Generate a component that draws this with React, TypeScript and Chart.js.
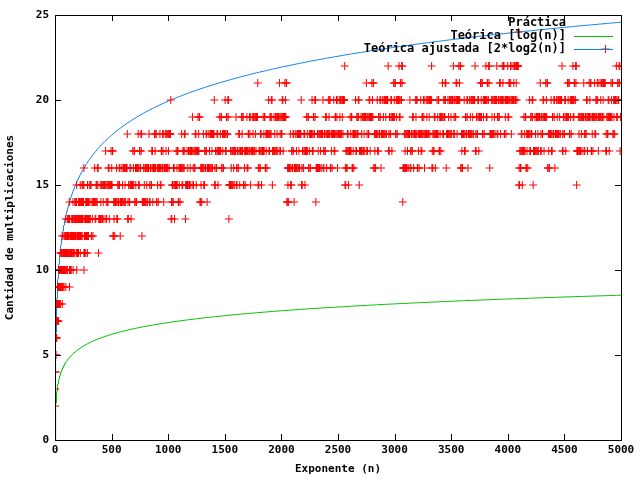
import React, { useEffect, useRef } from "react";
import { Chart, registerables } from "chart.js";
Chart.register(...registerables);

const xTicks = [0, 500, 1000, 1500, 2000, 2500, 3000, 3500, 4000, 4500, 5000];
const yTicks = [0, 5, 10, 15, 20, 25];
const seriesNames = ["Práctica", "Teórica [log(n)]", "Teórica ajustada [2*log2(n)]"];

// measured multiplications of square-and-multiply exponentiation for sampled exponents
function mults(n: number): number {
  let c = 1, e = n;
  while (e > 0) { if (e & 1) c++; e >>= 1; if (e > 0) c++; }
  return c;
}
const practicaN: number[] = [];
for (let n = 1; n <= 5000; n += n < 300 ? 1 : 3) practicaN.push(n);
const practica = practicaN.map((n) => ({ x: n, y: mults(n) }));

const curveN: number[] = [];
for (let n = 1; n <= 5000; n += n < 100 ? 1 : 20) curveN.push(n);
const teorica = curveN.map((n) => ({ x: n, y: Math.log(n) }));
const ajustada = curveN.map((n) => ({ x: n, y: 2 * Math.log2(n) }));

const FONT = "bold 12px 'DejaVu Sans Mono'";
const tf = { family: "DejaVu Sans Mono", size: 11, weight: "bold" as const };

export default function App() {
  const ref = useRef<HTMLCanvasElement>(null);
  useEffect(() => {
    document.body.style.margin = "0";
    const frame = {
      id: "frame",
      afterDraw(c: any) {
        const { ctx, chartArea: a, scales } = c;
        ctx.save();
        ctx.strokeStyle = "#000";
        ctx.lineWidth = 1;
        ctx.strokeRect(a.left + 0.5, a.top + 0.5, a.right - a.left, a.bottom - a.top);
        ctx.beginPath();
        xTicks.forEach((t) => {
          const x = Math.round(scales.x.getPixelForValue(t)) + 0.5;
          ctx.moveTo(x, a.bottom); ctx.lineTo(x, a.bottom - 6);
          ctx.moveTo(x, a.top); ctx.lineTo(x, a.top + 6);
        });
        yTicks.forEach((t) => {
          const y = Math.round(scales.y.getPixelForValue(t)) + 0.5;
          ctx.moveTo(a.left, y); ctx.lineTo(a.left + 6, y);
          ctx.moveTo(a.right, y); ctx.lineTo(a.right - 6, y);
        });
        ctx.stroke();
        ctx.font = FONT;
        ctx.fillStyle = "#000";
        ctx.textAlign = "right";
        ctx.textBaseline = "middle";
        const cols = [null, "#00c000", "#0a80f0"];
        seriesNames.forEach((s, i) => {
          const y = 23 + i * 13;
          ctx.fillText(s, 566, y);
          if (cols[i]) {
            ctx.strokeStyle = cols[i];
            ctx.beginPath(); ctx.moveTo(574, y + 0.5); ctx.lineTo(613, y + 0.5); ctx.stroke();
          }
        });
        ctx.restore();
      },
    };
    const chart = new Chart(ref.current!, {
      type: "scatter",
      data: {
        datasets: [
          { label: seriesNames[0], data: practica, pointStyle: "cross", pointRadius: 4, borderColor: "#ff0000", borderWidth: 1, showLine: false },
          { label: seriesNames[1], data: teorica, showLine: true, pointRadius: 0, borderColor: "#00c000", borderWidth: 1 },
          { label: seriesNames[2], data: ajustada, showLine: true, pointRadius: 0, borderColor: "#0a80f0", borderWidth: 1 },
        ],
      },
      options: {
        animation: false,
        responsive: false,
        layout: { padding: { top: 15, right: 19, left: 0, bottom: 0 } },
        plugins: { legend: { display: false }, tooltip: { enabled: false } },
        scales: {
          x: {
            type: "linear", min: 0, max: 5000,
            afterBuildTicks: (s: any) => { s.ticks = xTicks.map((v) => ({ value: v })); },
            afterFit: (s: any) => { s.height = 40; },
            grid: { display: false, drawTicks: false },
            border: { display: false },
            ticks: { color: "#000", font: tf, maxRotation: 0, padding: 4, callback: (v: any) => String(v) },
            title: { display: true, text: "Exponente (n)", color: "#000", font: tf, padding: { top: 2 } },
          },
          y: {
            type: "linear", min: 0, max: 25,
            afterBuildTicks: (s: any) => { s.ticks = yTicks.map((v) => ({ value: v })); },
            afterFit: (s: any) => { s.width = 55; },
            grid: { display: false, drawTicks: false },
            border: { display: false },
            ticks: { color: "#000", font: tf, padding: 6, callback: (v: any) => String(v) },
            title: { display: true, text: "Cantidad de multiplicaciones", color: "#000", font: tf, padding: { bottom: 8 } },
          },
        },
      },
      plugins: [frame],
    });
    return () => chart.destroy();
  }, []);
  return <canvas ref={ref} width={640} height={480} style={{ display: "block" }} />;
}
